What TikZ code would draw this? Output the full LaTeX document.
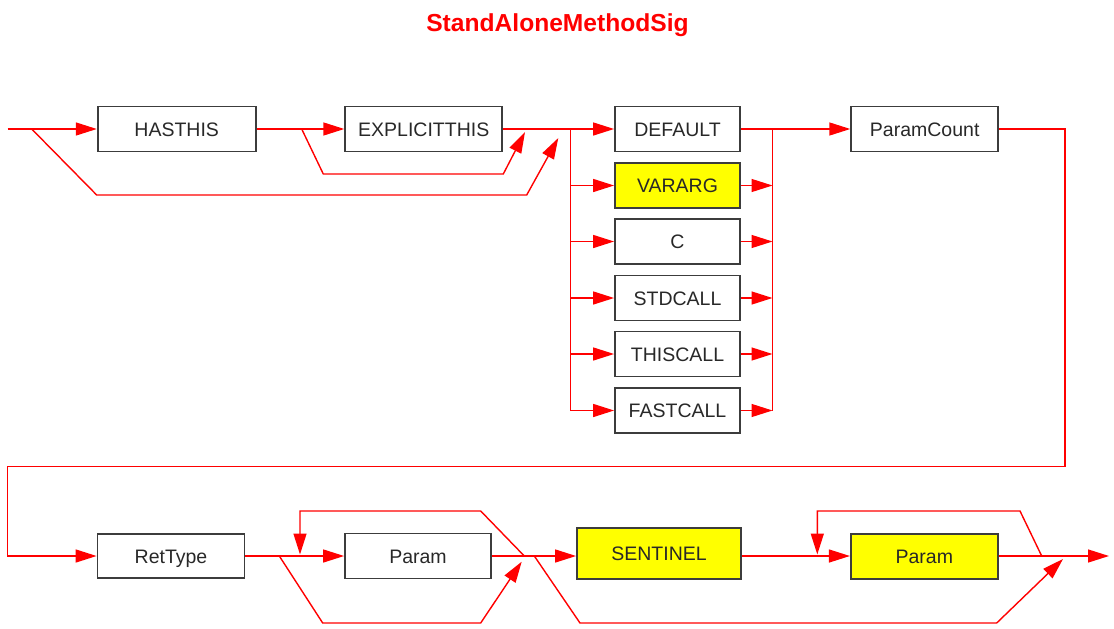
\documentclass[tikz,border=0pt]{standalone}
\usepackage{fontspec}
\setmainfont{Liberation Sans}
\usetikzlibrary{arrows.meta}
\definecolor{boxline}{RGB}{60,60,60}
\definecolor{boxtext}{RGB}{40,40,40}
\definecolor{hilite}{RGB}{255,255,0}
\begin{document}
\begin{tikzpicture}  % ------ StandAloneMethodSig -----------
      [x=1pt,y=-1pt,
       box/.style={draw=boxline,line width=1.8pt,fill=white,inner sep=0pt,
         minimum height=45pt,text=boxtext,text height=14pt,text depth=0pt,
         font=\fontsize{19.5}{22}\selectfont},
       hbox/.style={box,fill=hilite},
       wire/.style={draw=red,line width=1.4pt},
       arr/.style={wire,-{Triangle[length=21pt,width=13pt]}}]
    \useasboundingbox (0,0) rectangle (1114,629);

    \node[anchor=base,text=red,font=\fontsize{24.6}{28}\selectfont\bfseries]
      (title) at (557.5,31) {StandAloneMethodSig};

    % ------ first row -----------
    \node[box,minimum width=158pt] (hasthis) at (176.7,129) {HASTHIS};
    \node[box,minimum width=157pt] (explicit) at (423.7,129) {EXPLICITTHIS};
    \node[box,minimum width=125pt] (default) at (677.5,129) {DEFAULT};
    \node[hbox,minimum width=125pt] (vararg) at (677.5,185.5) {VARARG};
    \node[box,minimum width=125pt] (ccall) at (677.5,241.5) {C};
    \node[box,minimum width=125pt] (stdcall) at (677.5,298) {STDCALL};
    \node[box,minimum width=125pt] (thiscall) at (677.5,354) {THISCALL};
    \node[box,minimum width=125pt] (fastcall) at (677.5,410.5) {FASTCALL};
    \node[box,minimum width=147pt] (paramcount) at (924.7,129) {ParamCount};

    \coordinate (start) at (7.5,129);
    \coordinate (jleft) at (570.5,129);
    \coordinate (jright) at (772.5,129);

    \draw[arr] (start) -- (hasthis);
    \draw[arr] (hasthis) -- (explicit);
    \draw[wire] (explicit) -- (jleft);
    \draw[arr] (jleft) -- (default);
    \draw[arr] (31.7,129) -- (96.7,195) -- (526.7,195) -- (558.3,138);
    \draw[arr] (301.7,129) -- (323.3,174) -- (503.3,174) -- (525,132);
    \draw[wire] (jleft) -- (jleft |- fastcall);
    \draw[wire] (jright) -- (jright |- fastcall);
    \foreach \n in {vararg,ccall,stdcall,thiscall,fastcall}{
      \draw[arr] (jleft |- \n) -- (\n);
      \draw[arr] (\n) -- (jright |- \n);
    }
    \draw[wire] (default) -- (jright);
    \draw[arr] (jright) -- (paramcount);

    % ------ second row -----------
    \node[box,minimum width=147pt,minimum height=44pt] (rettype) at (171,556) {RetType};
    \node[box,minimum width=146pt] (param) at (418,556) {Param};
    \node[hbox,minimum width=164pt,minimum height=51pt] (sentinel) at (659,553.7) {SENTINEL};
    \node[hbox,minimum width=147pt] (paramb) at (924.3,556.5) {Param};
    \coordinate (finish) at (1109,556);

    \draw[arr] (paramcount.east) -- (1065,129) -- (1065,466.5) -- (7.5,466.5)
      -- (7.5,556) -- (rettype);
    \draw[arr] (rettype) -- (param);
    \draw[arr] (279.3,556) -- (322.7,623) -- (480.7,623) -- (521.7,561.7);
    \draw[arr] (524.3,556) -- (480.7,511) -- (300,511) -- (300,554.5);
    \draw[arr] (param) -- (param -| sentinel.west);
    \draw[arr] (534.3,556) -- (580,623) -- (996.7,623) -- (1063,559);
    \draw[arr] (sentinel.east |- param) -- (param -| paramb.west);
    \draw[arr] (1041.7,556) -- (1020,511) -- (817.3,511) -- (817.3,554.5);
    \draw[arr] (paramb.east |- param) -- (finish);
\end{tikzpicture}
\end{document}
